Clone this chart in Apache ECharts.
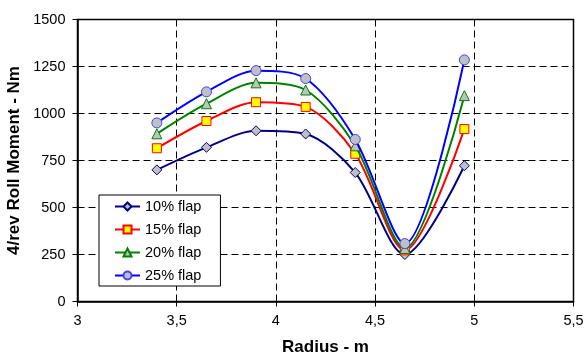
<!DOCTYPE html>
<html>
<head>
<meta charset="utf-8">
<script src="https://cdn.jsdelivr.net/npm/echarts@6/dist/echarts.min.js"></script>
<style>
html,body{margin:0;padding:0;background:#fff;}
#c{width:584px;height:360px;}
</style>
</head>
<body>
<div id="c"></div>
<script>
const radius = [3.4, 3.65, 3.9, 4.15, 4.4, 4.65, 4.95];
const flap10 = [700, 820, 908, 891, 686, 250, 722];
const flap15 = [815, 960, 1060, 1035, 786, 272, 917];
const flap20 = [892, 1052, 1163, 1125, 828, 282, 1095];
const flap25 = [950, 1115, 1228, 1186, 862, 308, 1285];
const seriesNames = ['10% flap', '15% flap', '20% flap', '25% flap'];
const xTitle = 'Radius - m';
const yTitle = '4/rev Roll Moment - Nm';

const FONT = 'Arial, "Liberation Sans", sans-serif';
const pairs = arr => radius.map((r, i) => [r, arr[i]]);

const styles = [
  {line: '#000080', fill: '#c0c0c0', border: '#000080', symbol: 'diamond', size: 10},
  {line: '#ff0000', fill: '#ffff00', border: '#ff0000', symbol: 'rect', size: 9},
  {line: '#008000', fill: '#c0c0c0', border: '#008000', symbol: 'triangle', size: 10},
  {line: '#0000ff', fill: '#c0c0c0', border: '#4040ff', symbol: 'circle', size: 10}
];
const dataSets = [flap10, flap15, flap20, flap25];

const chart = echarts.init(document.getElementById('c'), null, {renderer: 'canvas'});
chart.setOption({
  animation: false,
  backgroundColor: '#fff',
  textStyle: {fontFamily: FONT},
  grid: {left: 77.5, right: 10.5, top: 19.5, bottom: 58.5, containLabel: false, outerBoundsMode: 'none',
    show: true, borderColor: '#000', borderWidth: 1.5, backgroundColor: 'transparent'},
  legend: {
    show: true,
    orient: 'vertical',
    left: 99, top: 195,
    padding: [4, 19, 3, 15],
    itemGap: 8,
    itemWidth: 25, itemHeight: 10,
    backgroundColor: '#fff',
    borderColor: '#000', borderWidth: 1,
    borderRadius: 0,
    textStyle: {fontFamily: FONT, fontSize: 14.5, lineHeight: 14, color: '#000'},
    data: seriesNames
  },
  xAxis: {
    type: 'value', min: 3, max: 5.5, interval: 0.5,
    name: xTitle, nameLocation: 'middle', nameGap: 37,
    nameTextStyle: {fontFamily: FONT, fontSize: 17, fontWeight: 'bold', color: '#000'},
    axisLine: {show: true, onZero: false, lineStyle: {color: '#000', width: 1.5}},
    axisTick: {show: true, inside: false, length: 5, lineStyle: {color: '#000'}},
    axisLabel: {fontFamily: FONT, fontSize: 14.5, color: '#000', margin: 12,
      formatter: v => String(v).replace('.', ',')},
    splitLine: {show: true, lineStyle: {color: '#000', type: [7, 4], width: 1}}
  },
  yAxis: {
    type: 'value', min: 0, max: 1500, interval: 250,
    name: yTitle, nameLocation: 'middle', nameGap: 47,
    nameTextStyle: {fontFamily: FONT, fontSize: 17, fontWeight: 'bold', color: '#000'},
    axisLine: {show: true, lineStyle: {color: '#000', width: 1.5}},
    axisTick: {show: true, inside: false, length: 5, lineStyle: {color: '#000'}},
    axisLabel: {fontFamily: FONT, fontSize: 14.5, color: '#000', margin: 12,
      formatter: v => String(v)},
    splitLine: {show: true, lineStyle: {color: '#000', type: [7, 4], width: 1}}
  },
  series: dataSets.map((d, i) => ({
    name: seriesNames[i],
    type: 'line',
    data: pairs(d),
    smooth: 0.3,
    symbol: styles[i].symbol,
    symbolSize: styles[i].size,
    showAllSymbol: true,
    lineStyle: {color: styles[i].line, width: 2},
    itemStyle: {color: styles[i].fill, borderColor: styles[i].border, borderWidth: 1},
    z: 2 + i
  }))
});
</script>
</body>
</html>
